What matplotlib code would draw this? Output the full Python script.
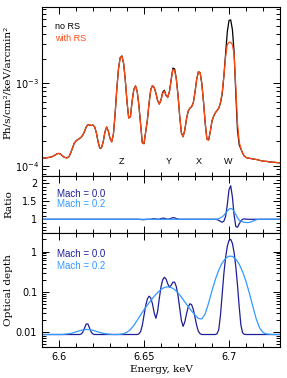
import numpy as np
import matplotlib.pyplot as plt
from matplotlib.ticker import MultipleLocator, LogLocator, FixedLocator, FixedFormatter, NullFormatter

# energy grids (keV)
energy = np.linspace(6.59, 6.73, 141)
energy_2 = np.linspace(6.59, 6.73, 71)

# spectrum, units of 1e-4 Ph/s/cm2/keV/arcmin2
flux_rs = [1.24, 1.24, 1.24, 1.25, 1.26, 1.27, 1.29, 1.32, 1.36, 1.40,
           1.41, 1.38, 1.32, 1.27, 1.25, 1.25, 1.30, 1.45, 1.65, 1.88,
           2.00, 2.07, 2.13, 2.22, 2.35, 2.60, 2.95, 3.15, 3.12, 3.08,
           3.12, 2.95, 2.50, 1.95, 1.63, 1.65, 1.95, 2.55, 2.95, 2.65,
           2.15, 1.95, 2.40, 4.20, 8.50, 15.0, 20.5, 21.5, 17.5, 11.0,
           6.0, 3.8, 3.9, 6.0, 8.4, 9.3, 8.0, 5.4, 3.2, 1.9,
           1.85, 2.6, 3.6, 5.8, 8.4, 9.4, 8.9, 7.6, 6.2, 5.6,
           6.3, 7.6, 8.0, 7.1, 6.8, 8.0, 11.0, 14.7, 14.4, 11.3,
           7.2, 4.0, 2.5, 2.25, 2.7, 3.7, 4.6, 5.0, 5.2, 5.8,
           7.8, 11.2, 13.8, 13.5, 10.0, 6.0, 3.3, 2.1, 2.05, 2.6,
           3.5, 4.0, 4.4, 4.7, 5.0, 5.9, 7.8, 12.3, 21.0, 29.5,
           31.5, 31.5, 29.5, 22.5, 9.0, 3.3, 1.95, 1.62, 1.42, 1.31,
           1.26, 1.24, 1.23, 1.22, 1.21, 1.20, 1.19, 1.18, 1.16, 1.15,
           1.14, 1.13, 1.13, 1.12, 1.11, 1.11, 1.10, 1.10, 1.09, 1.09,
           1.08]
flux_nors = [1.24, 1.24, 1.24, 1.25, 1.26, 1.27, 1.29, 1.32, 1.36, 1.40,
             1.41, 1.38, 1.32, 1.27, 1.25, 1.25, 1.30, 1.45, 1.65, 1.88,
             2.00, 2.07, 2.13, 2.22, 2.35, 2.60, 2.95, 3.15, 3.12, 3.08,
             3.12, 2.95, 2.50, 1.95, 1.63, 1.65, 1.95, 2.55, 2.95, 2.65,
             2.15, 1.95, 2.40, 4.20, 8.50, 15.0, 20.5, 21.5, 17.5, 11.0,
             6.0, 3.8, 3.9, 6.0, 8.4, 9.3, 8.0, 5.4, 3.2, 1.9,
             1.85, 2.6, 3.6, 5.8, 8.4, 9.4, 8.9, 7.6, 6.2, 5.6,
             6.3, 7.8, 8.25, 7.1, 6.8, 8.0, 11.2, 15.3, 15.0, 11.4,
             7.2, 4.0, 2.5, 2.25, 2.7, 3.7, 4.6, 5.0, 5.2, 5.8,
             7.8, 11.2, 13.8, 13.5, 10.0, 6.0, 3.3, 2.1, 2.05, 2.6,
             3.5, 4.0, 4.4, 4.7, 5.0, 5.8, 7.4, 12.3, 23.0, 42.0,
             58.0, 59.0, 45.0, 24.0, 7.5, 2.7, 1.8, 1.6, 1.42, 1.31,
             1.26, 1.24, 1.23, 1.22, 1.21, 1.20, 1.19, 1.18, 1.16, 1.15,
             1.14, 1.13, 1.13, 1.12, 1.11, 1.11, 1.10, 1.10, 1.09, 1.09,
             1.08]

# ratio no RS / with RS
ratio_m00 = ([1.0] * 58 +
             [0.995, 0.99, 0.99, 0.995, 1.0, 1.0, 1.0, 1.01, 1.015, 1.01,
              1.0, 1.005, 1.02, 1.03, 1.03, 1.01, 1.0, 1.01, 1.03, 1.045,
              1.04, 1.02, 1.005] +
             [1.0] * 22 +
             [0.99, 0.97, 0.94, 0.92, 0.95, 1.08, 1.40, 1.82, 1.93, 1.62,
              1.12, 0.80, 0.78, 0.87, 0.96, 1.0, 1.01, 1.005] +
             [1.0] * 20)
ratio_m02 = ([1.0] * 103 +
             [1.005, 1.02, 1.04, 1.07, 1.11, 1.17, 1.23, 1.28, 1.30, 1.28,
              1.22, 1.13, 1.04, 0.98, 0.95, 0.93, 0.915, 0.91, 0.91, 0.915,
              0.93, 0.95, 0.97, 0.985, 0.995] +
             [1.0] * 13)

# optical depth
tau_m00 = ([0.0086] * 23 +
           [0.0088, 0.0098, 0.0125, 0.0157, 0.0157, 0.0125, 0.0098, 0.0088] +
           [0.0086] * 26 +
           [0.0089, 0.0101, 0.0145, 0.0256, 0.0448, 0.0664, 0.0775, 0.0699,
            0.0495, 0.0299, 0.0218, 0.032, 0.0682, 0.131, 0.199, 0.230,
            0.206, 0.156, 0.130, 0.145, 0.173, 0.173, 0.134, 0.081, 0.0397,
            0.0192, 0.0137, 0.0176, 0.028, 0.0414, 0.0501, 0.0477, 0.0362,
            0.0231, 0.0143, 0.0103, 0.0090] +
           [0.0086] * 9 +
           [0.0090, 0.0115, 0.0264, 0.090, 0.287, 0.713, 1.35, 1.91, 2.02,
            1.60, 0.951, 0.425, 0.146, 0.0423, 0.0148, 0.0095, 0.0087] +
           [0.0086] * 21)
tau_m02 = [0.0086, 0.0086, 0.0086, 0.0086, 0.0086, 0.0086, 0.0086, 0.0088,
           0.0090, 0.0094, 0.0100, 0.0106, 0.0112, 0.0115, 0.0114, 0.0109,
           0.0103, 0.0097, 0.0092, 0.0089, 0.0087, 0.0086, 0.0086, 0.0087,
           0.0090, 0.0098, 0.0114, 0.0145, 0.0194, 0.0266, 0.0355, 0.0468,
           0.0602, 0.0769, 0.0952, 0.1136, 0.1275, 0.1326, 0.1273, 0.1131,
           0.0934, 0.0735, 0.0557, 0.0426, 0.0331, 0.0263, 0.0216, 0.0210,
           0.0282, 0.0523, 0.1062, 0.203, 0.347, 0.520, 0.679, 0.770, 0.759,
           0.650, 0.485, 0.315, 0.180, 0.0912, 0.0433, 0.0212, 0.0126,
           0.0097, 0.0089, 0.0087, 0.0086, 0.0086, 0.0086]

line_names = ['Z', 'Y', 'X', 'W']
line_energy = [6.6366, 6.6643, 6.6820, 6.6996]

c_rs = '#ff4a12'
c_dark = '#1f1f96'
c_light = '#3399ff'
lab_font = 'DejaVu Serif'
txt_font = 'Liberation Sans'

fig = plt.figure(figsize=(2.87, 3.78), dpi=100)
ax1 = fig.add_axes([0.1463, 0.5344, 0.8293, 0.4471])
ax2 = fig.add_axes([0.1463, 0.3836, 0.8293, 0.1508])
ax3 = fig.add_axes([0.1463, 0.0820, 0.8293, 0.3016])

ax1.plot(energy, np.array(flux_nors) * 1e-4, color='black', lw=0.9)
ax1.plot(energy, np.array(flux_rs) * 1e-4, color=c_rs, lw=0.9)
ax1.set_yscale('log')
ax1.set_ylim(7.5e-5, 8.45e-3)
ax1.set_ylabel('Ph/s/cm²/keV/arcmin²', family=lab_font, fontsize=7.5)
ax1.yaxis.set_label_coords(-0.127, 0.556)
ax1.tick_params(axis='y', pad=2)
ax1.text(0.055, 0.883, 'no RS', color='black', fontsize=6.5, family=txt_font,
         transform=ax1.transAxes, va='center')
ax1.text(0.055, 0.815, 'with RS', color=c_rs, fontsize=6.5, family=txt_font,
         transform=ax1.transAxes, va='center')
for n, e in zip(line_names, line_energy):
    ax1.text(e, 0.085, n, fontsize=6.5, family=txt_font, ha='center', va='center',
             transform=ax1.get_xaxis_transform())

ax2.plot(energy, ratio_m00, color=c_dark, lw=0.9)
ax2.plot(energy, ratio_m02, color=c_light, lw=0.9)
ax2.set_ylim(0.62, 2.2)
ax2.yaxis.set_major_locator(FixedLocator([1, 1.5, 2]))
ax2.yaxis.set_major_formatter(FixedFormatter(['1', '1.5', '2']))
ax2.yaxis.set_minor_locator(MultipleLocator(0.1))
ax2.set_ylabel('Ratio', family=lab_font, fontsize=7.5)
ax2.yaxis.set_label_coords(-0.118, 0.5)
ax2.text(0.062, 0.679, 'Mach = 0.0', color=c_dark, fontsize=7, family=txt_font,
         transform=ax2.transAxes, va='center')
ax2.text(0.062, 0.504, 'Mach = 0.2', color=c_light, fontsize=7, family=txt_font,
         transform=ax2.transAxes, va='center')

ax3.plot(energy, tau_m00, color=c_dark, lw=0.9)
ax3.plot(energy_2, tau_m02, color=c_light, lw=0.9)
ax3.set_yscale('log')
ax3.set_ylim(0.0042, 2.9)
ax3.yaxis.set_major_locator(FixedLocator([0.01, 0.1, 1]))
ax3.yaxis.set_major_formatter(FixedFormatter(['0.01', '0.1', '1']))
ax3.yaxis.set_minor_locator(LogLocator(base=10, subs=np.arange(2, 10)))
ax3.yaxis.set_minor_formatter(NullFormatter())
ax3.set_ylabel('Optical depth', family=lab_font, fontsize=7.5)
ax3.yaxis.set_label_coords(-0.122, 0.5)
ax3.set_xlabel('Energy, keV', family=lab_font, fontsize=7.5, labelpad=2)
ax3.text(0.062, 0.813, 'Mach = 0.0', color=c_dark, fontsize=7, family=txt_font,
         transform=ax3.transAxes, va='center')
ax3.text(0.062, 0.713, 'Mach = 0.2', color=c_light, fontsize=7, family=txt_font,
         transform=ax3.transAxes, va='center')

for ax in (ax1, ax2, ax3):
    ax.set_xlim(6.59, 6.73)
    ax.xaxis.set_major_locator(FixedLocator([6.6, 6.65, 6.7]))
    ax.xaxis.set_major_formatter(FixedFormatter(['6.6', '6.65', '6.7']))
    ax.xaxis.set_minor_locator(MultipleLocator(0.01))
    ax.tick_params(which='both', direction='in', top=True, right=True,
                   labelsize=7, width=0.7)
    ax.tick_params(which='major', length=5)
    ax.tick_params(which='minor', length=2.8)
    for s in ax.spines.values():
        s.set_linewidth(0.8)
for ax in (ax1, ax2):
    ax.tick_params(labelbottom=False)

fig.savefig('out.png', dpi=100)
